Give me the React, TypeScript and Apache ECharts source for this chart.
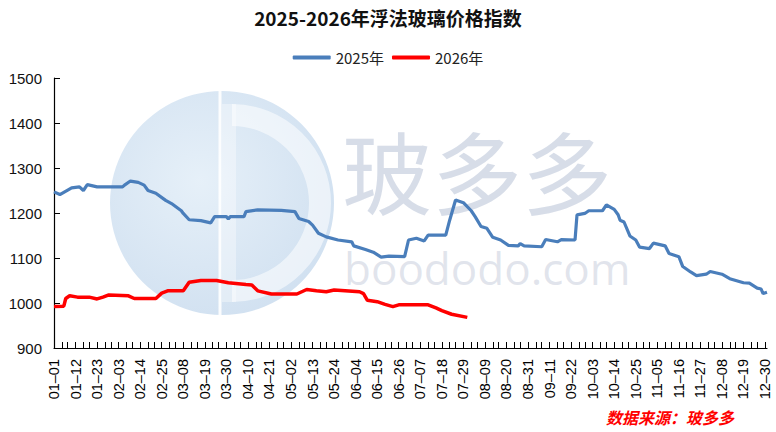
import React, { useEffect, useRef } from "react";
import * as echarts from "echarts";

const TITLE = "2025-2026年浮法玻璃价格指数";
const SOURCE = "数据来源：玻多多";
const SERIES_NAMES = ["2025年", "2026年"];
const MONTH_DAYS = [31, 28, 31, 30, 31, 30, 31, 31, 30, 31, 30, 31];
const Y_MIN = 900;
const Y_MAX = 1500;
const Y_STEP = 100;

// day-of-year categories "MM-DD"
const categories: string[] = [];
MONTH_DAYS.forEach((n, m) => {
  for (let d = 1; d <= n; d++) {
    categories.push(String(m + 1).padStart(2, "0") + "-" + String(d).padStart(2, "0"));
  }
});

// [day index, value]
const values2025: [number, number][] = [
  [0, 1247], [3, 1241], [9, 1256], [13, 1258], [15, 1250], [17, 1263], [22, 1258],
  [35, 1258], [36, 1262], [39, 1271], [43, 1268], [46, 1262], [48, 1250], [52, 1244],
  [57, 1228], [60, 1221], [65, 1205], [66, 1199], [69, 1185], [75, 1183], [80, 1178],
  [82, 1192], [88, 1192], [89, 1187], [90, 1192], [97, 1192], [98, 1203], [104, 1207],
  [116, 1206], [123, 1203], [125, 1188], [130, 1181], [132, 1173], [135, 1155],
  [139, 1147], [145, 1140], [152, 1136], [153, 1127], [159, 1119], [163, 1113],
  [167, 1102], [171, 1104], [179, 1103], [181, 1140], [185, 1144], [189, 1138],
  [191, 1151], [200, 1151], [202, 1184], [205, 1229], [209, 1223], [213, 1205],
  [215, 1192], [218, 1170], [221, 1166], [224, 1146], [228, 1140], [232, 1128],
  [237, 1127], [238, 1132], [240, 1127], [249, 1125], [251, 1141], [257, 1136],
  [259, 1141], [266, 1140], [267, 1196], [271, 1199], [273, 1205], [280, 1205],
  [282, 1218], [286, 1208], [288, 1196], [289, 1184], [291, 1180], [294, 1149],
  [297, 1140], [299, 1124], [304, 1121], [306, 1133], [312, 1127], [314, 1110],
  [319, 1103], [321, 1081], [325, 1069], [328, 1061], [333, 1064], [335, 1070],
  [341, 1064], [345, 1054], [352, 1045], [355, 1044], [359, 1033], [361, 1031],
  [362, 1021], [364, 1024],
];

const values2026: [number, number][] = [
  [0, 992], [5, 993], [6, 1010], [8, 1016], [12, 1013], [18, 1013], [22, 1009],
  [25, 1013], [28, 1018], [38, 1016], [41, 1010], [52, 1010], [55, 1022], [58, 1027],
  [66, 1027], [69, 1046], [75, 1050], [83, 1050], [89, 1045], [98, 1041], [101, 1040],
  [104, 1027], [111, 1020], [124, 1020], [129, 1030], [134, 1027], [139, 1025],
  [143, 1029], [156, 1025], [158, 1021], [160, 1006], [165, 1003], [169, 997],
  [173, 992], [176, 996], [191, 996], [195, 989], [198, 983], [203, 975], [211, 968],
];

const BLUE = "#4a7ebb";
const RED = "#ff0000";
const FONT = '"Noto Sans CJK SC", "Noto Sans", sans-serif';

export default function App() {
  const ref = useRef<HTMLDivElement>(null);
  useEffect(() => {
    if (!ref.current) return;
    const chart = echarts.init(ref.current, null, { renderer: "svg" });
    chart.setOption({
      animation: false,
      backgroundColor: "#ffffff",
      title: {
        text: TITLE,
        left: "center",
        top: 3,
        textStyle: { fontFamily: FONT, fontWeight: "bold", fontSize: 19, color: "#111" },
      },
      legend: {
        top: 45,
        left: "center",
        icon: "roundRect",
        itemWidth: 38,
        itemHeight: 4,
        itemGap: 8,
        textStyle: { fontFamily: FONT, fontSize: 15, color: "#222" },
        data: SERIES_NAMES,
      },
      grid: { left: 54, right: 9, top: 78, bottom: 84, containLabel: false },
      graphic: [
        {
          type: "circle",
          z: 0,
          silent: true,
          shape: { cx: 222, cy: 203, r: 112 },
          style: {
            fill: new echarts.graphic.RadialGradient(0.4, 0.4, 0.7, [
              { offset: 0, color: "rgba(205,225,242,0.5)" },
              { offset: 1, color: "rgba(160,192,225,0.5)" },
            ]),
          },
        },
        {
          type: "arc",
          z: 0,
          silent: true,
          shape: { cx: 232, cy: 203, r: 88, startAngle: -Math.PI / 2, endAngle: Math.PI / 2, clockwise: true },
          style: { stroke: "rgba(255,255,255,0.55)", lineWidth: 22, fill: "none" },
        },
        {
          type: "rect",
          z: 0,
          silent: true,
          shape: { x: 222, y: 104, width: 14, height: 198 },
          style: { fill: "rgba(255,255,255,0.35)" },
        },
        {
          type: "line",
          z: 0,
          silent: true,
          shape: { x1: 220, y1: 91, x2: 220, y2: 315 },
          style: { stroke: "rgba(255,255,255,0.9)", lineWidth: 3 },
        },
        {
          type: "text",
          z: 0,
          silent: true,
          style: {
            x: 342,
            y: 124,
            text: "玻多多",
            font: '90px "Noto Sans CJK SC", sans-serif',
            fill: "rgba(150,165,195,0.38)",
          },
        },
        {
          type: "text",
          z: 0,
          silent: true,
          style: {
            x: 344,
            y: 246,
            text: "boododo.com",
            font: '44px "Open Sans", sans-serif',
            fill: "rgba(175,185,205,0.38)",
          },
        },
        {
          type: "text",
          z: 10,
          style: {
            x: 606,
            y: 409,
            text: SOURCE,
            font: 'italic bold 16px "Noto Sans CJK SC", sans-serif',
            fill: "#ff0000",
          },
        },
      ],
      xAxis: {
        type: "category",
        data: categories,
        boundaryGap: false,
        axisLine: { lineStyle: { color: "#000", width: 1.2 } },
        axisTick: {
          inside: true,
          length: 6,
          interval: (i: number) => i % 11 === 0 || i % 11 === 4 || i % 11 === 7,
          lineStyle: { color: "#000" },
        },
        axisLabel: {
          interval: 10,
          rotate: 90,
          margin: 11,
          fontSize: 14.5,
          color: "#000",
          fontFamily: '"Liberation Sans", Arial, sans-serif',
          formatter: (v: string) => v.replace("-", "–"),
        },
        splitLine: { show: false },
      },
      yAxis: {
        type: "value",
        min: Y_MIN,
        max: Y_MAX,
        interval: Y_STEP,
        axisLine: { show: true, lineStyle: { color: "#000", width: 1.2 } },
        axisTick: { show: true, inside: true, length: 6, lineStyle: { color: "#000" } },
        axisLabel: {
          fontSize: 15,
          color: "#111",
          margin: 12,
          fontFamily: '"Liberation Sans", Arial, sans-serif',
          formatter: (v: number) => String(v),
        },
        splitLine: { show: false },
      },
      series: [
        {
          name: SERIES_NAMES[0],
          type: "line",
          data: values2025,
          symbol: "none",
          z: 3,
          lineStyle: { color: BLUE, width: 3.2 },
          itemStyle: { color: BLUE },
        },
        {
          name: SERIES_NAMES[1],
          type: "line",
          data: values2026,
          symbol: "none",
          z: 4,
          lineStyle: { color: RED, width: 3.5 },
          itemStyle: { color: RED },
        },
      ],
    });
    return () => chart.dispose();
  }, []);
  return (
    <div
      ref={ref}
      style={{ position: "fixed", left: 0, top: 0, width: 776, height: 432, background: "#fff" }}
    />
  );
}
